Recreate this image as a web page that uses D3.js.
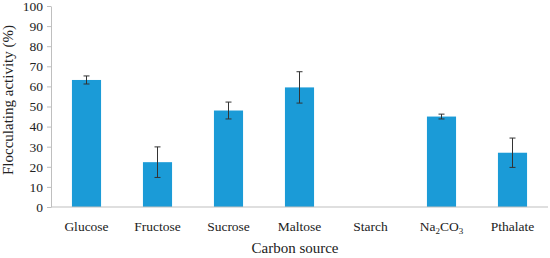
<!DOCTYPE html>
<html>
<head>
<meta charset="utf-8">
<script src="https://cdn.jsdelivr.net/npm/d3@7"></script>
<style>
  body { margin: 0; background: #fff; }
</style>
</head>
<body>
<div id="chart"></div>
<script>
// values
const categories = ["Glucose", "Fructose", "Sucrose", "Maltose", "Starch", "Na2CO3", "Pthalate"];
const activity = [63.2, 22.3, 48.0, 59.5, 0, 45.0, 27.0];
const errors = [2.0, 7.6, 4.2, 7.8, 0, 1.2, 7.3];
const yTicks = [0, 10, 20, 30, 40, 50, 60, 70, 80, 90, 100];

const width = 550, height = 258;
const margin = { top: 6, right: 2, bottom: 51, left: 51 };
const serif = "'Liberation Serif'";

const data = categories.map((c, i) => ({ cat: c, value: activity[i], err: errors[i] }));

const svg = d3.select("#chart")
  .append("svg")
  .attr("width", width)
  .attr("height", height);

const xScale = d3.scaleBand()
  .domain(categories)
  .range([margin.left, width - margin.right])
  .paddingInner(0.59)
  .paddingOuter(0.295);

const yScale = d3.scaleLinear()
  .domain([0, 100])
  .range([height - margin.bottom, margin.top]);

// y axis
const yAxis = svg.append("g")
  .attr("transform", `translate(${margin.left},0)`)
  .call(d3.axisLeft(yScale).tickValues(yTicks).tickSize(4).tickSizeOuter(0).tickPadding(4));
yAxis.select(".domain").attr("stroke", "#bfbfbf");
yAxis.selectAll(".tick line").attr("stroke", "#bfbfbf");
yAxis.selectAll("text")
  .style("font-family", serif)
  .style("font-size", "13.5px")
  .attr("fill", "#222");

// bars
svg.selectAll("rect.bar")
  .data(data)
  .enter()
  .append("rect")
  .attr("class", "bar")
  .attr("x", d => xScale(d.cat))
  .attr("y", d => yScale(d.value))
  .attr("width", xScale.bandwidth())
  .attr("height", d => yScale(0) - yScale(d.value))
  .attr("fill", "#1b9bd7");

// x axis line
svg.append("line")
  .attr("x1", margin.left)
  .attr("x2", width - margin.right)
  .attr("y1", yScale(0))
  .attr("y2", yScale(0))
  .attr("stroke", "#bfbfbf");

// error bars
const eb = svg.selectAll("g.err")
  .data(data.filter(d => d.err > 0))
  .enter()
  .append("g")
  .attr("stroke", "#333")
  .attr("stroke-width", 1);
const cx = d => xScale(d.cat) + xScale.bandwidth() / 2;
eb.append("line")
  .attr("x1", cx).attr("x2", cx)
  .attr("y1", d => yScale(d.value + d.err))
  .attr("y2", d => yScale(d.value - d.err));
eb.append("line")
  .attr("x1", d => cx(d) - 3).attr("x2", d => cx(d) + 3)
  .attr("y1", d => yScale(d.value + d.err))
  .attr("y2", d => yScale(d.value + d.err));
eb.append("line")
  .attr("x1", d => cx(d) - 3).attr("x2", d => cx(d) + 3)
  .attr("y1", d => yScale(d.value - d.err))
  .attr("y2", d => yScale(d.value - d.err));

// category labels
const labels = svg.selectAll("text.cat")
  .data(categories)
  .enter()
  .append("text")
  .attr("class", "cat")
  .attr("x", d => xScale(d) + xScale.bandwidth() / 2)
  .attr("y", 231)
  .attr("text-anchor", "middle")
  .attr("fill", "#222")
  .style("font-family", serif)
  .style("font-size", "13.5px");
labels.each(function(d) {
  const t = d3.select(this);
  if (d === "Na2CO3") {
    t.append("tspan").text("Na");
    t.append("tspan").text("2").attr("dy", 3).style("font-size", "9px");
    t.append("tspan").text("CO").attr("dy", -3);
    t.append("tspan").text("3").attr("dy", 3).style("font-size", "9px");
  } else {
    t.text(d);
  }
});

// axis titles
svg.append("text")
  .attr("x", 295)
  .attr("y", 253)
  .attr("text-anchor", "middle")
  .attr("fill", "#222")
  .style("font-family", serif)
  .style("font-size", "15px")
  .text("Carbon source");

svg.append("text")
  .attr("transform", "translate(13,100) rotate(-90)")
  .attr("text-anchor", "middle")
  .attr("fill", "#222")
  .style("font-family", serif)
  .style("font-size", "15px")
  .text("Flocculating activity (%)");
</script>
</body>
</html>
